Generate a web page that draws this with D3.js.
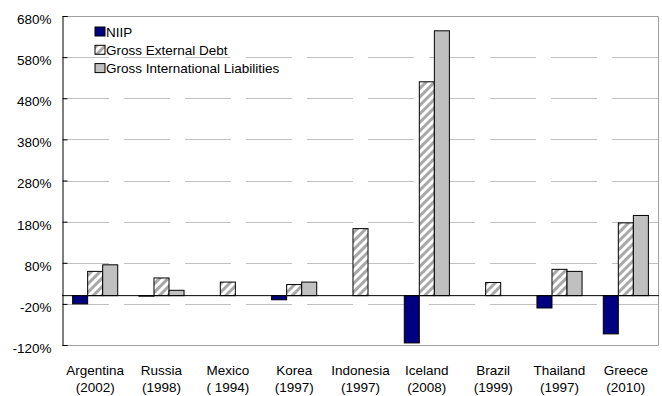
<!DOCTYPE html>
<html>
<head>
<meta charset="utf-8">
<script src="https://cdn.jsdelivr.net/npm/d3@7"></script>
<style>
  html, body { margin: 0; padding: 0; background: #fff; }
  svg { display: block; font-family: "Liberation Sans", Arial, sans-serif; }
</style>
</head>
<body>
<svg id="chart" width="662" height="396"></svg>
<script>
// Crisis episodes (country, year)
const countries = ["Argentina", "Russia", "Mexico", "Korea", "Indonesia", "Iceland", "Brazil", "Thailand", "Greece"];
const years = ["(2002)", "(1998)", "( 1994)", "(1997)", "(1997)", "(2008)", "(1999)", "(1997)", "(2010)"];

// Series, % of GDP (null = not reported)
const seriesNames = ["NIIP", "Gross External Debt", "Gross International Liabilities"];
const niip = [-20, -1, null, -10, null, -115, null, -30, -93];
const grossExternalDebt = [59, 43, 33, 27, 163, 520, 32, 64, 177];
const grossIntlLiabilities = [75, 13, null, 33, null, 644, null, 59, 195];

// Y axis ticks
const yTicks = [-120, -20, 80, 180, 280, 380, 480, 580, 680];

const svg = d3.select("#chart");
const plotLeft = 62, plotRight = 659, plotTop = 16, plotBottom = 345;
const fontSize = 13.5;

const x = d3.scaleBand().domain(countries).range([plotLeft, plotRight]).paddingInner(0).paddingOuter(0);
const y = d3.scaleLinear().domain([-120, 680]).range([plotBottom, plotTop]);

const groupW = x.bandwidth() * 0.68;
const xs = d3.scaleBand().domain(seriesNames).range([0, groupW]);

// Hatch pattern for gross external debt
const defs = svg.append("defs");
const pat = defs.append("pattern")
  .attr("id", "hatch")
  .attr("patternUnits", "userSpaceOnUse")
  .attr("width", 6).attr("height", 6)
  .attr("patternTransform", "rotate(45)");
pat.append("rect").attr("width", 6).attr("height", 6).attr("fill", "#fff");
pat.append("line").attr("x1", 1.5).attr("y1", 0).attr("x2", 1.5).attr("y2", 6)
  .attr("stroke", "#a8a8a8").attr("stroke-width", 3);

const fills = {
  "NIIP": "#000080",
  "Gross External Debt": "url(#hatch)",
  "Gross International Liabilities": "#c0c0c0"
};

// Dashed gridlines
svg.append("g")
  .selectAll("line")
  .data(yTicks.filter(t => t !== -120 && t !== 680))
  .join("line")
  .attr("x1", plotLeft + 1).attr("x2", plotRight)
  .attr("y1", d => Math.round(y(d)) + 0.5).attr("y2", d => Math.round(y(d)) + 0.5)
  .attr("stroke", "#c0c0c0")
  .attr("stroke-dasharray", "46,15");

// Plot frame (top, right, bottom)
svg.append("path")
  .attr("d", `M${plotLeft},${plotTop + 0.5}H${plotRight - 0.5}V${plotBottom + 0.5}H${plotLeft}`)
  .attr("fill", "none")
  .attr("stroke", "#a0a0a0");

// Bars
const rows = countries.map((c, i) => ({
  country: c,
  values: [niip[i], grossExternalDebt[i], grossIntlLiabilities[i]]
}));

const groups = svg.append("g")
  .selectAll("g")
  .data(rows)
  .join("g")
  .attr("transform", d => `translate(${x(d.country) + (x.bandwidth() - groupW) / 2},0)`);

groups.selectAll("rect")
  .data(d => d.values.map((v, k) => ({ key: seriesNames[k], value: v })).filter(e => e.value !== null))
  .join("rect")
  .attr("x", d => xs(d.key))
  .attr("width", xs.bandwidth())
  .attr("y", d => Math.min(y(d.value), y(0)))
  .attr("height", d => Math.max(Math.abs(y(d.value) - y(0)), 0.5))
  .attr("fill", d => fills[d.key])
  .attr("stroke", "#000")
  .attr("stroke-width", 1);

// Zero line
svg.append("line")
  .attr("x1", plotLeft).attr("x2", plotRight)
  .attr("y1", y(0)).attr("y2", y(0))
  .attr("stroke", "#000").attr("stroke-width", 1);

// Y axis
const yAxis = d3.axisLeft(y)
  .tickValues(yTicks)
  .tickSize(-5)
  .tickPadding(11)
  .tickFormat(d => d + "%");
const ya = svg.append("g")
  .attr("transform", `translate(${plotLeft + 0.5},0)`)
  .call(yAxis);
ya.select(".domain").attr("stroke", "#000");
ya.selectAll(".tick line").attr("stroke", "#000");
ya.selectAll(".tick text")
  .attr("font-size", fontSize)
  .attr("fill", "#000")
  .attr("dy", "0.55em")
  .attr("font-family", "Liberation Sans, Arial, sans-serif");

// Category labels
const xl = svg.append("g");
countries.forEach((c, i) => {
  const cx = x(c) + x.bandwidth() / 2;
  xl.append("text").attr("x", cx).attr("y", 375).attr("text-anchor", "middle")
    .attr("font-size", fontSize).text(c);
  xl.append("text").attr("x", cx).attr("y", 392).attr("text-anchor", "middle")
    .attr("font-size", fontSize).text(years[i]);
});

// Legend
const legend = svg.append("g").attr("transform", "translate(95,27)");
seriesNames.forEach((s, i) => {
  const g = legend.append("g").attr("transform", `translate(0,${i * 18.3})`);
  g.append("rect").attr("x", 0).attr("y", 0).attr("width", 10).attr("height", 9)
    .attr("fill", fills[s]).attr("stroke", "#000").attr("stroke-width", 1);
  g.append("text").attr("x", 11).attr("y", 9.5).attr("font-size", fontSize).text(s);
});
</script>
</body>
</html>
